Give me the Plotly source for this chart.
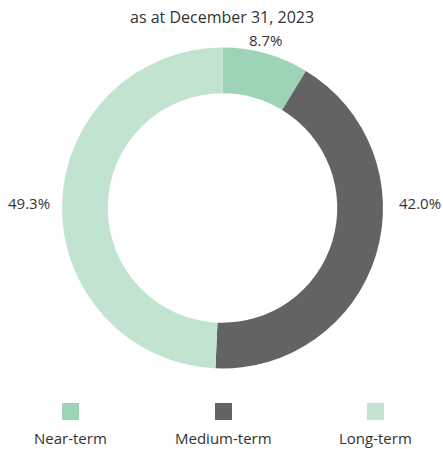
import plotly.graph_objects as go

categories = ["Near-term", "Medium-term", "Long-term"]
values = [8.7, 42.0, 49.3]
colors = ["#9dd4b5", "#636366", "#c2e3d0"]
title_text = "as at December 31, 2023"

W, H = 443, 449
FONT = "'Open Sans', 'Noto Sans', sans-serif"
TXT = "#333333"

fig = go.Figure()
fig.add_trace(go.Pie(
    labels=categories, values=values, sort=False, direction="clockwise", rotation=0,
    hole=0.715, marker=dict(colors=colors, line=dict(width=0)),
    textinfo="none", hoverinfo="label+percent", showlegend=False,
    domain=dict(x=[62 / W, 383 / W], y=[(H - 369) / H, (H - 47) / H]),
))

def ann(px, py, text, size=15):
    fig.add_annotation(x=px / W, y=1 - py / H, xref="paper", yref="paper",
                       xanchor="center", yanchor="middle",
                       text=text, showarrow=False,
                       font=dict(family=FONT, size=size, color=TXT))

# value labels
label_pos = [(266, 40), (420, 203), (29, 203)]
for v, (px, py) in zip(values, label_pos):
    ann(px, py, f"{v:.1f}%")

# custom legend: square above label
leg_x = [70.5, 223.5, 375.5]
for cat, col, cx in zip(categories, colors, leg_x):
    fig.add_shape(type="rect", xref="paper", yref="paper",
                  x0=(cx - 8.5) / W, x1=(cx + 8.5) / W,
                  y0=1 - 420 / H, y1=1 - 403 / H,
                  fillcolor=col, line=dict(width=0))
    ann(cx, 438, cat)

ann(222, 17, title_text, size=16)

fig.update_layout(width=W, height=H, margin=dict(l=0, r=0, t=0, b=0),
                  paper_bgcolor="white", plot_bgcolor="white")
fig.write_html("out.html")
